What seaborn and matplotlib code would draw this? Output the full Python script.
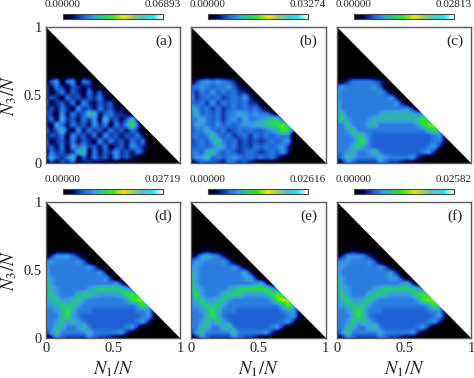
import numpy as np
import pandas as pd
import matplotlib
matplotlib.use("Agg")
import matplotlib.pyplot as plt
from matplotlib.patches import Polygon
import seaborn as sns

sns.set_style("ticks")
plt.rcParams["font.family"] = ["Liberation Serif", "DejaVu Serif"]
plt.rcParams["mathtext.fontset"] = "stix"

# Each char is a base-36 digit of 5% of a panel's colour scale.
# Rows go from N3/N = 0.64 down to 0 in steps of 0.04; columns from N1/N = 0 in steps of 0.04.
panel_a = ["0000000000", "0460560540200", "325314323100", "4135243152410", "24315342435210",
           "513425163243410", "2425316342534220", "43162534872453320", "251734253618342482",
           "3174253426351536a40", "52483162534253425300", "243516342516342435200", "513425243162534253500",
           "342516463425134264310", "15342378152436342530", "274358142534263421", "03142412312110"]
panel_b = ["0000000000", "0356565431000", "456545564210", "5354645453310", "63454534546310",
           "545363545453310", "6645353454545310", "57454535576565531", "5575453564755678930",
           "46654645456677889b80", "35575453454544567a9400", "45458545345354545550", "34546854534343454561",
           "445457645343545456300", "55478545434543454630", "4668454565454545310", "024343254342100"]
panel_c = ["0000000000", "0135555431", "5655555641", "65555555641", "6555555555630",
           "7555555555" + "5630", "7555555555555630", "7755555567777776530", "6865556777777778a70",
           "5585557755555556" + "9bb", "55685555555555555797", "5556875444444444445620", "5555895444444444445520",
           "55578654444444444563", "5567556854444444563", "3586555576555563100", "025433335433210"]
panel_d = ["0011110000", "13666531", "5655556410", "65555555641", "7555555555630",
           "76555555555630", "8655555555555630", "77655555678888874", "686555788766667" + "9a7",
           "6786678655555556" + "9bb", "6678786" + "5555555555" + "6a7", "556797555" + "44444444" + "5562",
           "5557965" + "44444444444" + "562", "55686765" + "444444444" + "563", "557755685" + "444444" + "563",
           "36855555755555631", "025433335433210"]
panel_e = ["0012110000", "13676531", "5665556410", "66555555641", "7655555555730",
           "86555555556730", "8655555555556730", "87655556789999974", "696555788866667" + "9b8",
           "6786678655555556" + "acb", "6678786" + "5555555555" + "7b8", "556797555" + "44444444" + "5662",
           "5557975" + "44444444444" + "562", "55686865" + "444444444" + "563", "557755785" + "444444" + "563",
           "36855555855555631", "025433335433210"]
panel_f = ["0012110000", "13666531", "5665556410", "66555555641", "7555555555630",
           "86555555556630", "8655555555556730", "77655556788888874", "686555788766667" + "9a8",
           "6786678655555556" + "abb", "6678786" + "5555555555" + "6a7", "556797555" + "44444444" + "5562",
           "5557975" + "44444444444" + "562", "55686865" + "444444444" + "563", "557755785" + "444444" + "563",
           "36855555755555631", "025433335433210"]

panel_letters = ["(a)", "(b)", "(c)", "(d)", "(e)", "(f)"]
scale_maxima = [0.06893, 0.03274, 0.02813, 0.02719, 0.02616, 0.02582]
panel_rows = [panel_a, panel_b, panel_c, panel_d, panel_e, panel_f]
positions = np.round(np.arange(26) * 0.04, 2)
tick_values = np.round(np.arange(11) * 0.1, 1)
colour_stops = ["#000000", "#000a5a", "#1c60d4", "#3a9ae8", "#22d070", "#40e420",
                "#f0e600", "#a0c878", "#50c8be", "#28e6f0", "#ffffff"]

cmap = sns.blend_palette(colour_stops, n_colors=256, as_cmap=True)

W, H = 474, 378
fig = plt.figure(figsize=(W / 100, H / 100), dpi=100)
lefts = [46, 191, 337]
tops = [27, 202]
AW, AH = 134.5, 136


def place(x0, y0, w, h):
    return [x0 / W, 1 - (y0 + h) / H, w / W, h / H]


def cell(v):
    return v / 0.04 + 0.5


for k, rows in enumerate(panel_rows):
    c, r = k % 3, k // 3
    x0, y0 = lefts[c], tops[r]
    ax = fig.add_axes(place(x0, y0, AW, AH))
    cax = fig.add_axes(place(x0 + 17, y0 - 13.5, 100, 5.5))
    vmax = scale_maxima[k]
    filled = [s.ljust(26, "0")[:26] for s in rows]
    grid = np.zeros((26, 26))
    for j, s in enumerate(filled):
        grid[j + 9] = [int(ch, 36) * 0.05 * vmax for ch in s]
    df = pd.DataFrame(grid, index=positions[::-1], columns=positions)
    sns.heatmap(df, ax=ax, cbar_ax=cax, cmap=cmap, vmin=0, vmax=vmax,
                xticklabels=False, yticklabels=False,
                cbar_kws={"orientation": "horizontal", "ticks": [0, vmax], "format": "%.5f"})
    mesh = ax.collections[0]
    mesh.set_visible(False)
    ax.imshow(grid, cmap=cmap, vmin=0, vmax=vmax, extent=(0, 26, 26, 0),
              interpolation="bilinear", aspect="auto", zorder=1)
    ax.set_xlim(cell(0), cell(1))
    ax.set_ylim(cell(1), cell(0))
    ax.add_patch(Polygon([(cell(0), cell(0)), (cell(1), cell(0)), (cell(1), cell(1))],
                         closed=True, fc="white", ec="none", zorder=2))
    for sp in ax.spines.values():
        sp.set_visible(True)
        sp.set_color("#5a5a5a")
        sp.set_linewidth(1.0)
        sp.set_zorder(5)
    ax.set_xticks(cell(tick_values))
    ax.set_yticks(cell(1 - tick_values))
    labels_x = [f"{v:g}" if v in (0, 0.5, 1) else "" for v in tick_values]
    ax.tick_params(direction="in", length=2, width=0.6, color="#444444", labelsize=10.4,
                   pad=3, labelcolor="#222222", zorder=6)
    if r == 1:
        ax.set_xticklabels(labels_x)
        ax.set_xlabel(r"$N_1/N$", fontsize=13.5, color="#222222")
        ax.xaxis.set_label_coords(0.5, -0.16)
    else:
        ax.set_xticklabels([])
        ax.set_xlabel("")
    if c == 0:
        ax.set_yticklabels(labels_x)
        ax.set_ylabel(r"$N_3/N$", fontsize=13.5, color="#222222")
        ax.yaxis.set_label_coords(-0.2, 0.5)
    else:
        ax.set_yticklabels([])
        ax.set_ylabel("")
    ax.text(0.875, 0.895, panel_letters[k], transform=ax.transAxes, ha="center", va="center",
            fontsize=11, color="#222222", zorder=7)
    cax.xaxis.tick_top()
    cax.tick_params(length=0, pad=3, labelsize=8.1, labelcolor="#222222")
    cb = mesh.colorbar
    cb.outline.set_visible(True)
    cb.outline.set_edgecolor("#444444")
    cb.outline.set_linewidth(0.8)

fig.savefig("out.png", dpi=100)
